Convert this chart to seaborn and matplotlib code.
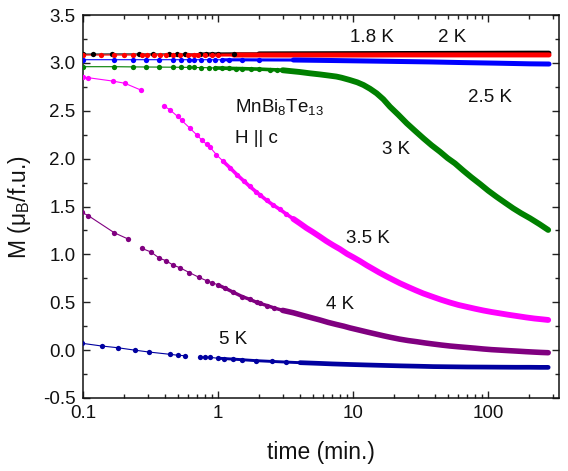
import numpy as np
import pandas as pd
import matplotlib
matplotlib.use('Agg')
import matplotlib.pyplot as plt
import seaborn as sns
from matplotlib.ticker import MultipleLocator, LogLocator, NullFormatter

# ---------------- data (time in min, M in muB/f.u.) ----------------
t_18 = [0.1, 0.119, 0.162, 0.26, 0.327, 0.434, 0.492, 0.566, 0.73, 0.81, 0.9, 1.0, 1.3, 2.0, 3.6,
        6.7, 12, 21, 37, 65, 115, 204, 282]
m_18 = [3.092, 3.092, 3.093, 3.093, 3.093, 3.093, 3.093, 3.093, 3.093, 3.094, 3.094, 3.094, 3.095,
        3.095, 3.096, 3.097, 3.098, 3.099, 3.100, 3.101, 3.102, 3.103, 3.103]
s_18 = [0] * len(t_18)

t_2 = [0.1, 0.135, 0.17, 0.2, 0.235, 0.27, 0.295, 0.334, 0.37, 0.408, 0.46, 0.52, 0.6, 0.66, 0.71,
       0.8, 0.9, 1.0, 1.3, 2.0, 3.6, 6.7, 12, 21, 37, 65, 115, 204, 282]
m_2 = [3.082] * 20 + [3.082, 3.082, 3.082, 3.083, 3.083, 3.083, 3.083, 3.083, 3.083]
s_2 = [0] * len(t_2)

t_25 = [0.1, 0.17, 0.232, 0.29, 0.366, 0.464, 0.53, 0.607, 0.664, 0.75, 0.85, 0.95, 1.07, 1.2,
        1.5, 2.0, 3.6, 6.7, 12, 21, 37, 65, 115, 204, 282]
m_25 = [3.033, 3.033, 3.033, 3.033, 3.033, 3.033, 3.033, 3.033, 3.033, 3.033, 3.033, 3.033, 3.032,
        3.032, 3.032, 3.031, 3.030, 3.025, 3.020, 3.015, 3.010, 3.003, 2.997, 2.990, 2.988]
s_25 = [0] * len(t_25)

t_3 = [0.1, 0.17, 0.232, 0.29, 0.366, 0.464, 0.53, 0.607, 0.664, 0.75, 0.85, 0.95, 1.07, 1.2,
       1.35, 1.5, 1.75, 2.0, 2.4, 2.7, 3.0, 3.4, 4.0, 4.78, 5.7, 6.72, 7.5, 8.2, 9.44, 10.7, 11.9,
       13.3, 14.9, 16.7, 18.7, 21.5, 24.9, 28.7, 33.1, 38, 43.9, 50, 56.6, 65.3, 75, 86.9, 100,
       115, 133, 153, 175, 204, 240, 278]
m_3 = [2.960, 2.960, 2.958, 2.957, 2.956, 2.955, 2.954, 2.953, 2.952, 2.951, 2.949, 2.947, 2.945,
       2.943, 2.941, 2.940, 2.937, 2.935, 2.930, 2.927, 2.923, 2.915, 2.905, 2.891, 2.879, 2.866,
       2.857, 2.845, 2.821, 2.797, 2.769, 2.730, 2.682, 2.620, 2.542, 2.460, 2.369, 2.290, 2.212,
       2.140, 2.072, 2.005, 1.951, 1.875, 1.805, 1.735, 1.665, 1.602, 1.540, 1.481, 1.430, 1.377,
       1.315, 1.255]
s_3 = [0] * len(t_3)

t_35 = [0.1, 0.109, 0.165, 0.203, 0.266,
        0.396, 0.438, 0.50, 0.535, 0.617, 0.69, 0.76, 0.82, 0.868, 0.97, 1.09, 1.22, 1.38, 1.55,
        1.71, 1.9, 2.04, 2.28, 2.55, 2.86, 3.2, 3.6, 4.02, 4.5, 5.0, 5.66, 6.3, 7.1, 7.96, 9.0,
        10, 11.2, 12.6, 14, 15.5, 17.5, 20, 22.2, 25, 29, 33, 39.1, 45, 52, 60, 69.2, 80, 92,
        106, 122, 140, 165, 190, 220, 250, 278]
m_35 = [2.850, 2.845, 2.810, 2.787, 2.717,
        2.550, 2.510, 2.440, 2.400, 2.317, 2.250, 2.190, 2.150, 2.120, 2.040, 1.970, 1.905, 1.830,
        1.765, 1.710, 1.655, 1.620, 1.565, 1.515, 1.470, 1.420, 1.370, 1.324, 1.275, 1.235, 1.185,
        1.140, 1.095, 1.055, 1.005, 0.970, 0.930, 0.885, 0.848, 0.812, 0.772, 0.730, 0.698, 0.665,
        0.625, 0.592, 0.555, 0.525, 0.497, 0.472, 0.452, 0.432, 0.414, 0.398, 0.384, 0.370, 0.355,
        0.342, 0.330, 0.322, 0.315]
s_35 = [0] * 5 + [1] * 56

t_4 = [0.097, 0.109, 0.17, 0.215,
       0.27, 0.317, 0.366, 0.41, 0.46, 0.52, 0.61, 0.72, 0.82, 0.9, 1.0, 1.13, 1.29, 1.5, 1.71,
       1.92, 2.04, 2.3, 2.6, 3.0, 3.6, 4.3, 5.0, 5.66, 6.5, 7.5, 8.5, 9.46, 11, 12.6, 14.5, 16.7,
       19, 22, 25.5, 29.5, 34, 39, 45, 52, 60, 70, 80, 91.8, 106, 122, 140, 162, 190, 215, 245,
       278]
m_4 = [1.440, 1.404, 1.225, 1.160,
       1.064, 1.025, 0.960, 0.934, 0.890, 0.860, 0.810, 0.760, 0.725, 0.705, 0.680, 0.645, 0.605,
       0.560, 0.530, 0.500, 0.488, 0.465, 0.440, 0.415, 0.390, 0.360, 0.335, 0.315, 0.290, 0.268,
       0.250, 0.232, 0.210, 0.190, 0.170, 0.150, 0.133, 0.115, 0.100, 0.088, 0.075, 0.064, 0.053,
       0.043, 0.035, 0.027, 0.020, 0.012, 0.005, 0.000, -0.005, -0.010, -0.016, -0.020, -0.024,
       -0.027]
s_4 = [0] * 4 + [1] * 52

t_5 = [0.097, 0.137, 0.18, 0.24, 0.307, 0.44, 0.505, 0.565,
       0.73, 0.8, 0.87, 1.0, 1.1, 1.29, 1.5, 1.9, 2.5, 3.2, 4.03, 5.5, 7.0, 9.5, 12.6, 17, 22,
       30, 39.1, 52, 70, 95, 122, 160, 200, 240, 278]
m_5 = [0.072, 0.043, 0.025, 0.000, -0.020, -0.044, -0.054, -0.058,
       -0.072, -0.074, -0.076, -0.085, -0.088, -0.094, -0.100, -0.110, -0.118, -0.125, -0.131,
       -0.138, -0.144, -0.150, -0.155, -0.160, -0.164, -0.168, -0.172, -0.174, -0.176, -0.177,
       -0.178, -0.179, -0.179, -0.180, -0.180]
s_5 = [0] * 8 + [1] * 27

series_names = ['1.8 K', '2 K', '2.5 K', '3 K', '3.5 K', '4 K', '5 K']
series_t = [t_18, t_2, t_25, t_3, t_35, t_4, t_5]
series_m = [m_18, m_2, m_25, m_3, m_35, m_4, m_5]
series_s = [s_18, s_2, s_25, s_3, s_35, s_4, s_5]

xtick_vals = [0.1, 1, 10, 100]
xtick_labels = ['0.1', '1', '10', '100']
ytick_vals = [-0.5, 0.0, 0.5, 1.0, 1.5, 2.0, 2.5, 3.0, 3.5]
ytick_labels = ['-0.5', '0.0', '0.5', '1.0', '1.5', '2.0', '2.5', '3.0', '3.5']

# ---------------- style ----------------
colors = ['#000000', '#ff0000', '#0000ff', '#008000', '#ff00ff', '#800080', '#0000a0']
medium_from = [0.7, 0.6, 1.0, 0.9, 1.0, 1.0, 0.9]
thick_from = [1.5, 1.2, 3.0, 3.0, 3.5, 3.0, 4.0]
thick_lw = [3.4, 3.6, 3.6, 4.2, 4.2, 4.0, 3.4]
label_pos = {  # axes-fraction, baseline
    '1.8 K': (0.6065, 0.930),
    '2 K': (0.774, 0.930),
    '2.5 K': (0.854, 0.7736),
    '3 K': (0.658, 0.637),
    '3.5 K': (0.5975, 0.4055),
    '4 K': (0.539, 0.2315),
    '5 K': (0.315, 0.140),
}

sns.set_theme(style='ticks')
plt.rcParams['font.family'] = ['Liberation Sans', 'DejaVu Sans']
plt.rcParams['mathtext.fontset'] = 'custom'
plt.rcParams['mathtext.rm'] = 'Liberation Sans'
plt.rcParams['mathtext.it'] = 'Liberation Sans:italic'

W, H = 568, 471
fig = plt.figure(figsize=(W / 100, H / 100), dpi=100)
ax = fig.add_axes([83.3 / W, 1 - 398 / H, 476 / W, 383 / H])
ax.set_xscale('log')

for name, t, m, s, c, t1, t2, lw in zip(series_names, series_t, series_m, series_s,
                                         colors, medium_from, thick_from, thick_lw):
    df = pd.DataFrame({'t': t, 'M': m, 'seg': s})
    sns.lineplot(data=df, x='t', y='M', units='seg', estimator=None, sort=False,
                 color=c, lw=0.8, legend=False, ax=ax)
    dm = df[df['t'] >= t1]
    sns.lineplot(data=dm, x='t', y='M', estimator=None, sort=False, color=c, lw=lw * 0.62,
                 solid_capstyle='round', legend=False, ax=ax)
    dd = df[df['t'] >= t2]
    sns.lineplot(data=dd, x='t', y='M', estimator=None, sort=False, color=c, lw=lw,
                 solid_capstyle='round', legend=False, ax=ax)
    dp = df[df['t'] < t2]
    sns.scatterplot(data=dp, x='t', y='M', color=c, s=14.5, linewidth=0,
                    legend=False, ax=ax, zorder=3)

ax.set_xlim(0.1, 336)
ax.set_ylim(-0.5, 3.5)
ax.set_xticks(xtick_vals, labels=xtick_labels)
ax.set_yticks(ytick_vals, labels=ytick_labels)
ax.xaxis.set_minor_locator(LogLocator(base=10, subs=np.arange(2, 10), numticks=20))
ax.xaxis.set_minor_formatter(NullFormatter())
ax.yaxis.set_minor_locator(MultipleLocator(0.25))

ax.tick_params(which='both', direction='in', top=True, right=True, width=1.0, color='#222222')
ax.tick_params(which='major', length=5, labelsize=13.5, labelcolor='#111111')
ax.tick_params(which='minor', length=3)
ax.tick_params(axis='x', which='major', pad=5)
ax.tick_params(axis='y', which='major', pad=5.5)
for sp in ax.spines.values():
    sp.set_linewidth(1.1)
    sp.set_color('#111111')

ax.set_xlabel('time (min.)', fontsize=16.5, labelpad=14, color='#111111')
ax.set_ylabel('M (μ$_\\mathregular{B}$/f.u.)', fontsize=16.5, labelpad=7, color='#111111')

for name in series_names:
    x, y = label_pos[name]
    ax.text(x, y, name, transform=ax.transAxes, ha='center', va='baseline',
            fontsize=13.5, color='#111111')

ax.text(0.3187, 0.746, 'MnBi$_\\mathregular{8}$Te$_\\mathregular{13}$', transform=ax.transAxes,
        ha='left', va='baseline', fontsize=13.5, color='#111111')
ax.text(0.3187, 0.665, 'H || c', transform=ax.transAxes, ha='left', va='baseline',
        fontsize=13.5, color='#111111')

fig.savefig('out.png', dpi=100)
